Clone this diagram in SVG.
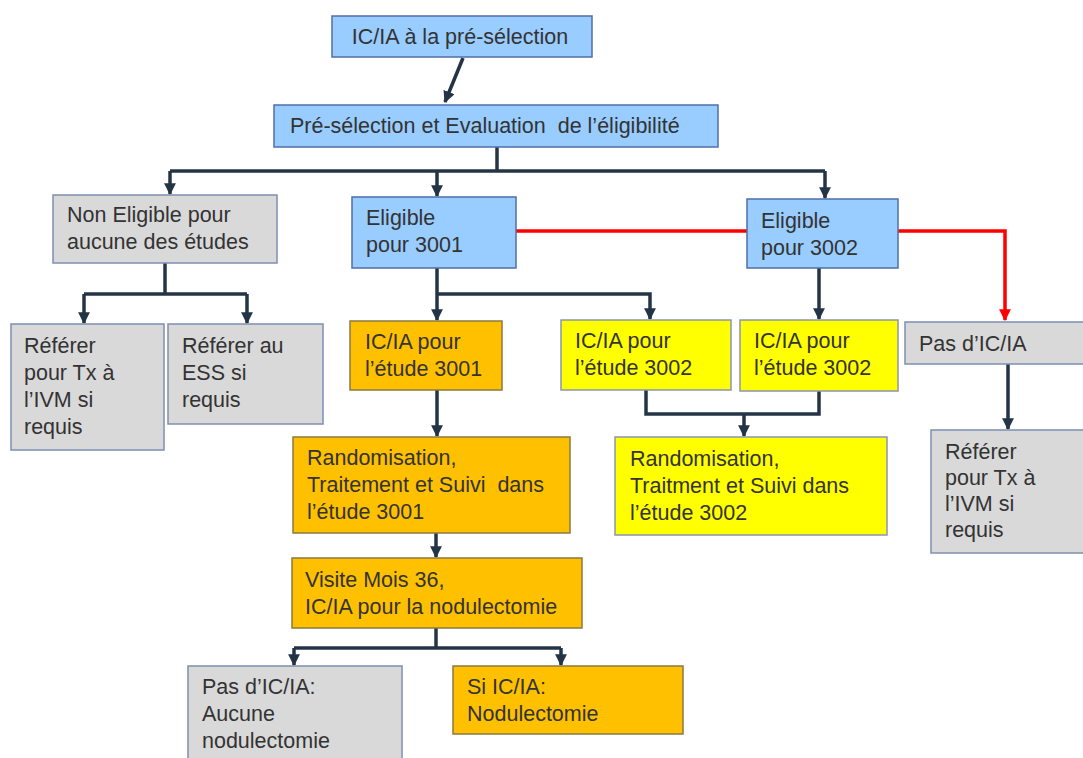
<svg xmlns="http://www.w3.org/2000/svg" width="1083" height="758" viewBox="0 0 1083 758">
<defs>
<marker id="ah" viewBox="0 0 10 10" refX="9" refY="5" markerWidth="3.4" markerHeight="3.4" orient="auto" markerUnits="strokeWidth">
<path d="M0,0 L10,5 L0,10 z" fill="#243447"/>
</marker>
<marker id="ahr" viewBox="0 0 10 10" refX="9" refY="5" markerWidth="3.4" markerHeight="3.4" orient="auto" markerUnits="strokeWidth">
<path d="M0,0 L10,5 L0,10 z" fill="#ff0000"/>
</marker>
<style>
.t{font-family:"Liberation Sans",Arial,sans-serif;font-size:21.5px;fill:#333333}
.blue{fill:#99ccff;stroke:#4f6fa8;stroke-width:1.5}
.gray{fill:#d9d9d9;stroke:#7f8fb0;stroke-width:1.5}
.orange{fill:#ffc000;stroke:#8a7a40;stroke-width:1.5}
.yellow{fill:#ffff00;stroke:#8a96b0;stroke-width:1.5}
.c{fill:none;stroke:#243447;stroke-width:3.5}
.a{marker-end:url(#ah)}
.r{fill:none;stroke:#ff0000;stroke-width:3.5}
</style>
</defs>
<rect width="1083" height="758" fill="#ffffff"/>
<g id="connectors">
<line class="c a" x1="463" y1="58" x2="445" y2="102"/>
<polyline class="c" points="497,147 497,171"/>
<polyline class="c" points="170,171 825,171"/>
<line class="c a" x1="170" y1="171" x2="170" y2="194"/>
<line class="c a" x1="437" y1="171" x2="437" y2="196"/>
<line class="c a" x1="825" y1="171" x2="825" y2="198"/>
<line class="r" x1="516" y1="231" x2="747" y2="231"/>
<polyline class="r" points="898,231 1005,231 1005,320" marker-end="url(#ahr)"/>
<line class="c" x1="165" y1="263" x2="165" y2="294"/>
<polyline class="c" points="84,294 247,294"/>
<line class="c a" x1="84" y1="294" x2="84" y2="323"/>
<line class="c a" x1="247" y1="294" x2="247" y2="323"/>
<line class="c a" x1="437" y1="268" x2="437" y2="320"/>
<polyline class="c a" points="437,294 650,294 650,319"/>
<line class="c a" x1="819" y1="268" x2="819" y2="319"/>
<line class="c a" x1="1008" y1="364" x2="1008" y2="429"/>
<polyline class="c" points="646,390 646,414 819,414 819,390"/>
<line class="c a" x1="744" y1="414" x2="744" y2="436"/>
<line class="c a" x1="437" y1="390" x2="437" y2="436"/>
<line class="c a" x1="436" y1="533" x2="436" y2="557"/>
<line class="c" x1="436" y1="628" x2="436" y2="648"/>
<polyline class="c" points="294,648 561,648"/>
<line class="c a" x1="294" y1="648" x2="294" y2="665"/>
<line class="c a" x1="561" y1="648" x2="561" y2="665"/>
</g>
<g id="n1"><rect class="blue" x="332" y="16" width="260" height="41"/><text class="t" x="460" y="44" text-anchor="middle">IC/IA à la pré-sélection</text></g>
<g id="n2"><rect class="blue" x="274" y="105" width="444" height="42"/><text class="t" x="290" y="133" xml:space="preserve">Pré-sélection et Evaluation  de l’éligibilité</text></g>
<g id="n3"><rect class="gray" x="53" y="195" width="224" height="68"/><text class="t" x="67" y="222">Non Eligible pour</text><text class="t" x="67" y="249">aucune des études</text></g>
<g id="n4"><rect class="blue" x="352" y="197" width="164" height="71"/><text class="t" x="366" y="225">Eligible</text><text class="t" x="366" y="252">pour 3001</text></g>
<g id="n5"><rect class="blue" x="747" y="199" width="151" height="69"/><text class="t" x="761" y="228">Eligible</text><text class="t" x="761" y="255">pour 3002</text></g>
<g id="n6"><rect class="gray" x="11" y="324" width="153" height="126"/><text class="t" x="24" y="353">Référer</text><text class="t" x="24" y="380">pour Tx à</text><text class="t" x="24" y="407">l’IVM si</text><text class="t" x="24" y="434">requis</text></g>
<g id="n7"><rect class="gray" x="168" y="324" width="155" height="100"/><text class="t" x="182" y="353">Référer au</text><text class="t" x="182" y="380">ESS si</text><text class="t" x="182" y="407">requis</text></g>
<g id="n8"><rect class="orange" x="350" y="321" width="152" height="69"/><text class="t" x="365" y="349">IC/IA pour</text><text class="t" x="365" y="376">l’étude 3001</text></g>
<g id="n9"><rect class="yellow" x="561" y="320" width="170" height="70"/><text class="t" x="575" y="348">IC/IA pour</text><text class="t" x="575" y="375">l’étude 3002</text></g>
<g id="n10"><rect class="yellow" x="740" y="320" width="158" height="71"/><text class="t" x="754" y="348">IC/IA pour</text><text class="t" x="754" y="375">l’étude 3002</text></g>
<g id="n11"><rect class="gray" x="905" y="322" width="180" height="42"/><text class="t" x="919" y="351">Pas d’IC/IA</text></g>
<g id="n12"><rect class="gray" x="931" y="430" width="154" height="123"/><text class="t" x="945" y="459">Référer</text><text class="t" x="945" y="485">pour Tx à</text><text class="t" x="945" y="511">l’IVM si</text><text class="t" x="945" y="537">requis</text></g>
<g id="n13"><rect class="orange" x="293" y="437" width="277" height="96"/><text class="t" x="307" y="465">Randomisation,</text><text class="t" x="307" y="492" xml:space="preserve">Traitement et Suivi  dans</text><text class="t" x="307" y="519">l’étude 3001</text></g>
<g id="n14"><rect class="yellow" x="615" y="437" width="272" height="98"/><text class="t" x="630" y="466">Randomisation,</text><text class="t" x="630" y="493">Traitment et Suivi dans</text><text class="t" x="630" y="520">l’étude 3002</text></g>
<g id="n15"><rect class="orange" x="292" y="558" width="290" height="70"/><text class="t" x="305" y="587">Visite Mois 36,</text><text class="t" x="305" y="614">IC/IA pour la nodulectomie</text></g>
<g id="n16"><rect class="gray" x="188" y="666" width="214" height="100"/><text class="t" x="202" y="694">Pas d’IC/IA:</text><text class="t" x="202" y="721">Aucune</text><text class="t" x="202" y="748">nodulectomie</text></g>
<g id="n17"><rect class="orange" x="453" y="666" width="230" height="68"/><text class="t" x="467" y="694">Si IC/IA:</text><text class="t" x="467" y="721">Nodulectomie</text></g>
</svg>
